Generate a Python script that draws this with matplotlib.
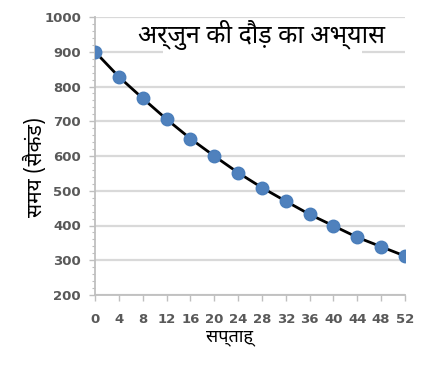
import matplotlib
matplotlib.use("Agg")
import matplotlib.pyplot as plt
from matplotlib import font_manager as fm
from matplotlib.patches import Rectangle
from matplotlib.ticker import MultipleLocator

# ---- data ----
weeks = [0, 4, 8, 12, 16, 20, 24, 28, 32, 36, 40, 44, 48, 52]
times = [900, 828, 766, 706, 650, 600, 552, 509, 470, 432, 399, 366, 339, 312]
x_ticks = [0, 4, 8, 12, 16, 20, 24, 28, 32, 36, 40, 44, 48, 52]
y_ticks = [200, 300, 400, 500, 600, 700, 800, 900, 1000]
title_text = "अर्जुन की दौड़ का अभ्यास"
x_label = "सप्ताह्"
y_label = "समय (सैकंड)"

# ---- fonts ----
available = {f.name for f in fm.fontManager.ttflist}
deva = "DejaVu Sans"
for cand in ["Noto Sans Devanagari", "Hind", "Mukta", "Ek Mukta", "Lohit Devanagari",
             "Kalam", "Annapurna SIL", "Arya"]:
    if cand in available:
        deva = cand
        break
num_font = "DejaVu Sans"

W, H = 421, 368
fig = plt.figure(figsize=(W / 100, H / 100), dpi=100)
left, right, top, bottom = 95, 405, 17, 295
ax = fig.add_axes([left / W, 1 - bottom / H, (right - left) / W, (bottom - top) / H])

ax.set_xlim(0, 52)
ax.set_ylim(200, 1000)
ax.set_xticks(x_ticks)
ax.set_yticks(y_ticks)
ax.yaxis.set_minor_locator(MultipleLocator(20))

grid_c = "#d9d9d9"
axis_c = "#bfbfbf"
ax.grid(axis="y", which="major", color=grid_c, linewidth=1.6, zorder=0)
ax.set_axisbelow(True)
for s in ["top", "right"]:
    ax.spines[s].set_visible(False)
for s in ["left", "bottom"]:
    ax.spines[s].set_color(axis_c)
    ax.spines[s].set_linewidth(1.3)

ax.tick_params(axis="y", which="major", length=4, width=1, color=axis_c, pad=6,
               labelsize=9.5, labelcolor="#595959")
ax.tick_params(axis="y", which="minor", length=2.5, width=0.8, color=axis_c)
ax.tick_params(axis="x", which="major", length=4, width=1, color=axis_c, pad=9,
               labelsize=9.5, labelcolor="#595959")
for lab in ax.get_xticklabels() + ax.get_yticklabels():
    lab.set_fontfamily(num_font)
    lab.set_fontweight("bold")

# white box behind the title (hides the gridline)
ax.add_patch(Rectangle(((163 - left) / (right - left), (bottom - 57) / (bottom - top)),
                       (362 - 163) / (right - left), 35 / (bottom - top),
                       transform=ax.transAxes, facecolor="white", edgecolor="none",
                       zorder=1))

ax.plot(weeks, times, color="black", linewidth=2, zorder=3,
        marker="o", markersize=9, markerfacecolor="#4f81bd",
        markeredgecolor="#4a7ebb", markeredgewidth=1)

ax.text((262 - left) / (right - left), (bottom - 35) / (bottom - top), title_text,
        transform=ax.transAxes, ha="center", va="center", fontsize=18,
        family=[deva, "DejaVu Sans"], color="black", zorder=4)

ax.set_xlabel(x_label, fontsize=13, family=[deva, "DejaVu Sans"], color="black")
ax.xaxis.set_label_coords((230 - left) / (right - left), (bottom - 337) / (bottom - top))
ax.set_ylabel(y_label, fontsize=15, family=[deva, "DejaVu Sans"], color="black")
ax.yaxis.set_label_coords((35 - left) / (right - left), (bottom - 167) / (bottom - top))
ax.xaxis.label.set_va("center")
ax.yaxis.label.set_va("center")

fig.savefig("out.png", dpi=100)
